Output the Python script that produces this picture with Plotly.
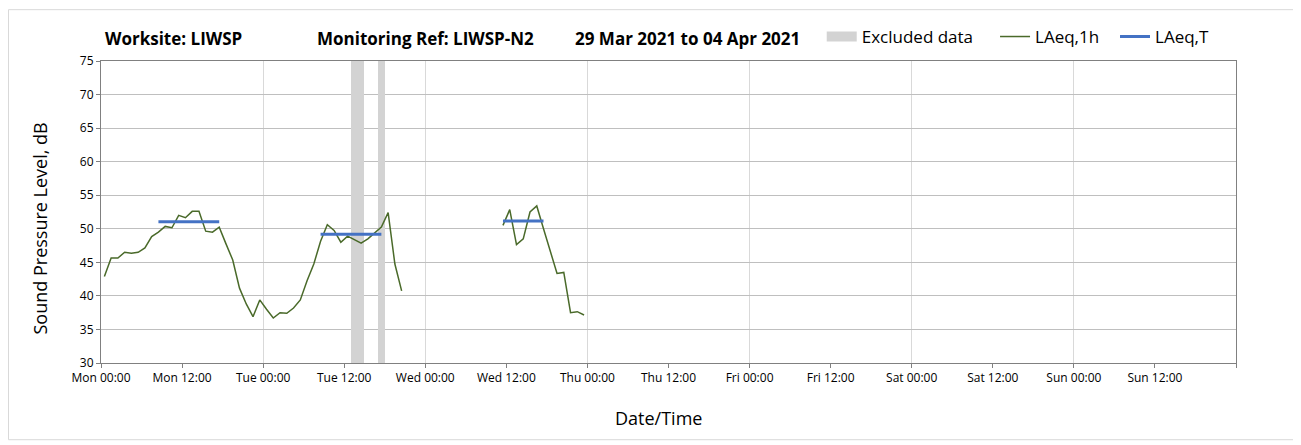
import pandas as pd
import plotly.graph_objects as go

# ---- data ----
laeq1h_seg1 = [42.9, 45.65, 45.65, 46.5, 46.35, 46.5, 47.15, 48.85, 49.5, 50.35,
               50.15, 52.0, 51.65, 52.6, 52.6, 49.65, 49.5, 50.25, 47.75, 45.35,
               41.15, 38.8, 36.9, 39.4, 38.0, 36.7, 37.5, 37.4, 38.2, 39.4,
               42.25, 44.75, 48.15, 50.6, 49.75, 48.0, 48.9, 48.35, 47.85, 48.5,
               49.4, 50.25, 52.4, 44.75, 40.75]
seg1_start = "2021-03-29 00:30"
laeq1h_seg2 = [50.5, 52.85, 47.65, 48.5, 52.5, 53.4, 50.0, 46.85, 43.35, 43.5,
               37.5, 37.65, 37.15]
seg2_start = "2021-03-31 11:30"

laeqT_start = ["2021-03-29 08:30", "2021-03-30 08:30", "2021-03-31 11:30"]
laeqT_end = ["2021-03-29 17:30", "2021-03-30 17:30", "2021-03-31 17:30"]
laeqT_value = [51.05, 49.2, 51.15]

excl_start = ["2021-03-30 13:00", "2021-03-30 17:00"]
excl_end = ["2021-03-30 15:00", "2021-03-30 18:00"]

tick_times = pd.date_range("2021-03-29 00:00", "2021-04-05 00:00", freq="12h")
tick_labels = ["Mon 00:00", "Mon 12:00", "Tue 00:00", "Tue 12:00", "Wed 00:00",
               "Wed 12:00", "Thu 00:00", "Thu 12:00", "Fri 00:00", "Fri 12:00",
               "Sat 00:00", "Sat 12:00", "Sun 00:00", "Sun 12:00", ""]

y_min, y_max = 30, 75
x_min, x_max = "2021-03-29 00:00", "2021-04-05 00:00"

headers = ["Worksite: LIWSP", "Monitoring Ref: LIWSP-N2", "29 Mar 2021 to 04 Apr 2021"]

# ---- build series ----
t1 = list(pd.date_range(seg1_start, periods=len(laeq1h_seg1), freq="h"))
t2 = list(pd.date_range(seg2_start, periods=len(laeq1h_seg2), freq="h"))
gx = t1 + [t1[-1] + pd.Timedelta(minutes=30)] + t2
gy = laeq1h_seg1 + [None] + laeq1h_seg2

bx, by = [], []
for s, e, v in zip(laeqT_start, laeqT_end, laeqT_value):
    bx += [pd.Timestamp(s), pd.Timestamp(e), None]
    by += [v, v, None]

es = [pd.Timestamp(s) for s in excl_start]
ee = [pd.Timestamp(e) for e in excl_end]
ex_mid = [a + (b - a) / 2 for a, b in zip(es, ee)]
ex_w = [(b - a).total_seconds() * 1000 for a, b in zip(es, ee)]

FONT = "Open Sans"
EXCL_COLOR = "#D3D3D3"

fig = go.Figure()
fig.add_trace(go.Bar(x=ex_mid, y=[y_max - y_min] * len(es), base=[y_min] * len(es),
                     width=ex_w, marker=dict(color=EXCL_COLOR, line=dict(width=0)),
                     name="Excluded data", hoverinfo="skip", showlegend=False,
                     legendgroup="excl"))
# legend key for the excluded periods (wide grey swatch, draws nothing in the plot)
fig.add_trace(go.Scatter(x=ex_mid, y=[None] * len(es), mode="lines",
                         name="Excluded data", line=dict(color=EXCL_COLOR, width=12),
                         legend="legend", legendgroup="excl", hoverinfo="skip"))
fig.add_trace(go.Scatter(x=gx, y=gy, mode="lines", name="LAeq,1h",
                         line=dict(color="#4A6A2A", width=1.5), connectgaps=False,
                         legend="legend2"))
fig.add_trace(go.Scatter(x=bx, y=by, mode="lines", name="LAeq,T",
                         line=dict(color="#4472C4", width=3), connectgaps=False,
                         legend="legend3"))

leg_common = dict(orientation="h", xanchor="left", y=1.076, yanchor="middle",
                  font=dict(size=17, family=FONT, color="#000000"),
                  bgcolor="rgba(0,0,0,0)")

fig.update_layout(
    width=1293, height=437,
    margin=dict(l=93, r=65, t=52, b=82),
    paper_bgcolor="white", plot_bgcolor="white",
    font=dict(family=FONT, color="#000000"),
    showlegend=True,
    legend=dict(x=0.635, **leg_common),
    legend2=dict(x=0.7877, **leg_common),
    legend3=dict(x=0.8934, **leg_common),
    bargap=0,
)

fig.update_xaxes(
    type="date", range=[x_min, x_max],
    tickvals=list(tick_times), ticktext=tick_labels,
    tickfont=dict(size=12, family=FONT),
    ticks="outside", ticklen=4, tickcolor="#808080",
    showgrid=False,
    minor=dict(dtick=86400000, tick0=x_min, showgrid=True, gridcolor="#D9D9D9",
               gridwidth=1, ticks=""),
    showline=True, linecolor="#808080", linewidth=1, mirror=True,
    zeroline=False,
)
fig.update_yaxes(
    range=[y_min, y_max], dtick=5, tick0=30,
    tickfont=dict(size=12, family=FONT),
    ticks="outside", ticklen=4, tickcolor="#808080",
    showgrid=True, gridcolor="#BFBFBF", gridwidth=1,
    showline=True, linecolor="#808080", linewidth=1, mirror=True,
    zeroline=False,
)

# axis titles
fig.add_annotation(text="Sound Pressure Level, dB", xref="paper", yref="paper",
                   x=-0.0537, y=0.4455, xanchor="center", yanchor="middle",
                   textangle=-90, showarrow=False, font=dict(size=18, family=FONT))
fig.add_annotation(text="Date/Time", xref="paper", yref="paper",
                   x=0.4916, y=-0.1815, xanchor="center", yanchor="middle",
                   showarrow=False, font=dict(size=18, family=FONT))

# outer chart border
fig.add_shape(type="rect", xref="paper", yref="paper",
              x0=-0.0815, x1=1.0511, y0=-0.254, y1=1.170,
              line=dict(color="#D9D9D9", width=1), fillcolor="rgba(0,0,0,0)", layer="below")

# header texts
header_x = [0.0018, 0.1885, 0.416]
for txt, hx in zip(headers, header_x):
    fig.add_annotation(text="<b>" + txt + "</b>", xref="paper", yref="paper",
                       x=hx, y=1.076, xanchor="left", yanchor="middle", showarrow=False,
                       font=dict(size=17, family=FONT, color="#000000"))

fig.write_html("out.html")
